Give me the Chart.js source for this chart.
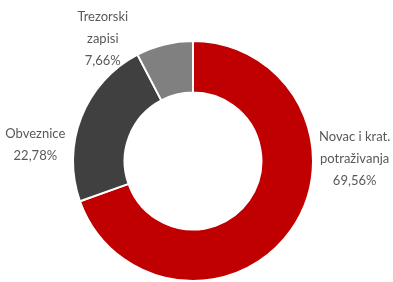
<!DOCTYPE html>
<html>
<head>
<meta charset="utf-8">
<script src="https://cdn.jsdelivr.net/npm/chart.js@4"></script>
<style>
  html, body { margin: 0; padding: 0; background: #fff; }
  #wrap { width: 393px; height: 282px; }
</style>
</head>
<body>
<div id="wrap"><canvas id="chart"></canvas></div>
<script>
// categories (label lines) and shares in %
var kategorije = [['Novac i krat.', 'potraživanja'], ['Obveznice'], ['Trezorski', 'zapisi']];
var udjeli = [69.56, 22.78, 7.66];
var boje = ['#C00000', '#404040', '#808080'];

// where each label sits, relative to the doughnut centre, in units of outer radius
var mjestaOznaka = [[1.347, -0.017], [-1.314, -0.136], [-0.752, -1.017]];

function formatPostotak(v) {
  return v.toFixed(2).replace('.', ',') + '%';
}

var oznake = {
  id: 'oznake',
  afterDraw: function(chart) {
    var ctx = chart.ctx;
    var luk = chart.getDatasetMeta(0).data[0];
    var cx = luk.x, cy = luk.y, r = luk.outerRadius;
    ctx.save();
    ctx.font = '13px Lato, "Open Sans", sans-serif';
    ctx.fillStyle = '#595959';
    ctx.textAlign = 'center';
    ctx.textBaseline = 'middle';
    var visina = 22;
    for (var i = 0; i < udjeli.length; i++) {
      var linije = kategorije[i].concat([formatPostotak(udjeli[i])]);
      var x = cx + mjestaOznaka[i][0] * r;
      var y = cy + mjestaOznaka[i][1] * r;
      var y0 = y - (linije.length - 1) * visina / 2;
      for (var j = 0; j < linije.length; j++) {
        ctx.fillText(linije[j], x, y0 + j * visina);
      }
    }
    ctx.restore();
  }
};

new Chart(document.getElementById('chart'), {
  type: 'doughnut',
  data: {
    labels: kategorije.map(function(k) { return k.join(' '); }),
    datasets: [{
      data: udjeli,
      backgroundColor: boje,
      borderColor: '#ffffff',
      borderWidth: 2
    }]
  },
  options: {
    responsive: true,
    maintainAspectRatio: false,
    animation: false,
    cutout: '57%',
    layout: { padding: { top: 40, bottom: 0, left: 0, right: 7 } },
    plugins: {
      legend: { display: false },
      tooltip: { enabled: false }
    }
  },
  plugins: [oznake]
});
</script>
</body>
</html>
